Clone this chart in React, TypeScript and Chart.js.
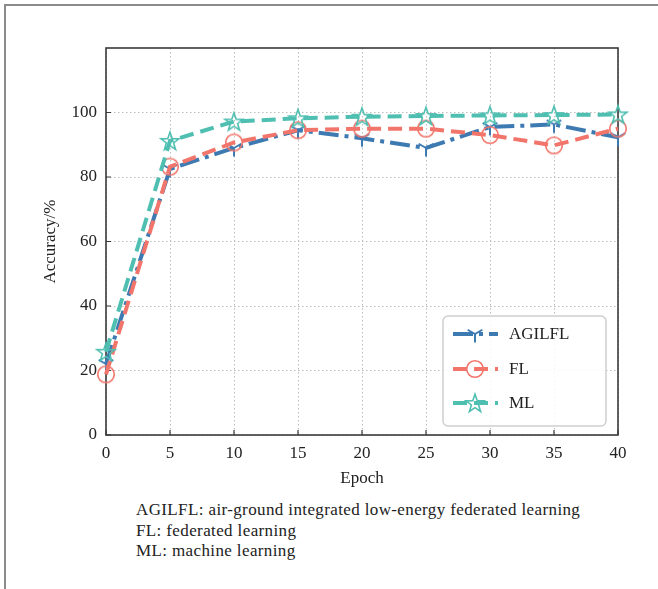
import React, { useEffect, useRef } from 'react';
import { Chart, registerables } from 'chart.js';

Chart.register(...registerables);

const epochs = [0, 5, 10, 15, 20, 25, 30, 35, 40];
const agilflValues = [22, 82.5, 89, 94.5, 92, 89, 95.5, 96.3, 92.3];
const flValues = [18.8, 83.2, 90.7, 94.5, 95, 95, 93, 89.8, 95];
const mlValues = [25.8, 91.2, 97.2, 98.2, 98.7, 98.9, 99.1, 99.2, 99.4];
const seriesNames = ['AGILFL', 'FL', 'ML'];
const seriesColors = ['#3d7ab2', '#f2756b', '#4fbfb1'];
const yTickValues = [0, 20, 40, 60, 80, 100];
const xTickValues = [0, 5, 10, 15, 20, 25, 30, 35, 40];
const xTitle = 'Epoch';
const yTitle = 'Accuracy/%';
const captionLines = [
  'AGILFL: air-ground integrated low-energy federated learning',
  'FL: federated learning',
  'ML: machine learning',
];

const FONT = '"Liberation Serif", "Times New Roman", serif';

function makeTriDown(color: string): HTMLCanvasElement {
  const c = document.createElement('canvas');
  c.width = 22;
  c.height = 22;
  const ctx = c.getContext('2d')!;
  const cx = 11, cy = 11, r = 8.5;
  ctx.strokeStyle = color;
  ctx.lineWidth = 2;
  ctx.beginPath();
  ctx.moveTo(cx, cy);
  ctx.lineTo(cx, cy + r);
  ctx.moveTo(cx, cy);
  ctx.lineTo(cx - r * 0.866, cy - r * 0.5);
  ctx.moveTo(cx, cy);
  ctx.lineTo(cx + r * 0.866, cy - r * 0.5);
  ctx.stroke();
  return c;
}

function makeCircle(color: string): HTMLCanvasElement {
  const c = document.createElement('canvas');
  c.width = 22;
  c.height = 22;
  const ctx = c.getContext('2d')!;
  ctx.strokeStyle = color;
  ctx.lineWidth = 1.6;
  ctx.beginPath();
  ctx.arc(11, 11, 8.3, 0, Math.PI * 2);
  ctx.stroke();
  return c;
}

function makeStar(color: string): HTMLCanvasElement {
  const c = document.createElement('canvas');
  c.width = 24;
  c.height = 24;
  const ctx = c.getContext('2d')!;
  const cx = 12, cy = 12.8, R = 9.5, r = R * 0.4;
  ctx.strokeStyle = color;
  ctx.lineWidth = 1.6;
  ctx.lineJoin = 'miter';
  ctx.beginPath();
  for (let i = 0; i < 10; i++) {
    const rad = i % 2 === 0 ? R : r;
    const a = -Math.PI / 2 + (i * Math.PI) / 5;
    const x = cx + rad * Math.cos(a);
    const y = cy + rad * Math.sin(a);
    if (i === 0) ctx.moveTo(x, y);
    else ctx.lineTo(x, y);
  }
  ctx.closePath();
  ctx.stroke();
  return c;
}

export default function App() {
  const canvasRef = useRef<HTMLCanvasElement | null>(null);

  useEffect(() => {
    document.body.style.margin = '0';
    const canvas = canvasRef.current;
    if (!canvas) return;

    const markers = [
      makeTriDown(seriesColors[0]),
      makeCircle(seriesColors[1]),
      makeStar(seriesColors[2]),
    ];
    const dashes = [
      [20, 6, 4, 6],
      [14, 7],
      [14, 7],
    ];
    const values = [agilflValues, flValues, mlValues];

    const datasets = values.map((vals, i) => ({
      label: seriesNames[i],
      data: epochs.map((e, j) => ({ x: e, y: vals[j] })),
      borderColor: seriesColors[i],
      backgroundColor: seriesColors[i],
      borderWidth: 4,
      borderDash: dashes[i],
      borderCapStyle: 'butt' as const,
      pointStyle: markers[i],
      pointRadius: 9,
      pointHoverRadius: 9,
      tension: 0,
      fill: false,
      clip: false as any,
      order: 3 - i,
    }));

    const framePlugin = {
      id: 'framePlugin',
      beforeDatasetsDraw(chart: any) {
        const { ctx, chartArea } = chart;
        const xs = chart.scales.x;
        const ys = chart.scales.y;
        ctx.save();
        ctx.strokeStyle = '#3a3a3a';
        ctx.lineWidth = 1.2;
        ctx.setLineDash([]);
        ctx.beginPath();
        for (const v of xTickValues) {
          const px = xs.getPixelForValue(v);
          ctx.moveTo(px, chartArea.bottom);
          ctx.lineTo(px, chartArea.bottom - 5);
        }
        for (const v of yTickValues) {
          const py = ys.getPixelForValue(v);
          ctx.moveTo(chartArea.left, py);
          ctx.lineTo(chartArea.left + 5, py);
        }
        ctx.stroke();
        ctx.lineWidth = 1.6;
        ctx.strokeRect(
          chartArea.left,
          chartArea.top,
          chartArea.right - chartArea.left,
          chartArea.bottom - chartArea.top
        );
        ctx.restore();
      },
      afterDraw(chart: any) {
        const { ctx } = chart;
        const bx = 443, by = 316, bw = 163, bh = 110, rad = 5;
        ctx.save();
        ctx.beginPath();
        ctx.moveTo(bx + rad, by);
        ctx.lineTo(bx + bw - rad, by);
        ctx.arcTo(bx + bw, by, bx + bw, by + rad, rad);
        ctx.lineTo(bx + bw, by + bh - rad);
        ctx.arcTo(bx + bw, by + bh, bx + bw - rad, by + bh, rad);
        ctx.lineTo(bx + rad, by + bh);
        ctx.arcTo(bx, by + bh, bx, by + bh - rad, rad);
        ctx.lineTo(bx, by + rad);
        ctx.arcTo(bx, by, bx + rad, by, rad);
        ctx.closePath();
        ctx.fillStyle = 'rgba(255,255,255,0.85)';
        ctx.fill();
        ctx.strokeStyle = '#cfcfcf';
        ctx.lineWidth = 1.5;
        ctx.stroke();
        const rows = [334, 369, 403];
        for (let i = 0; i < 3; i++) {
          const y = rows[i];
          ctx.strokeStyle = seriesColors[i];
          ctx.lineWidth = 4;
          ctx.lineCap = 'butt';
          ctx.setLineDash(dashes[i]);
          ctx.beginPath();
          ctx.moveTo(453, y);
          ctx.lineTo(498, y);
          ctx.stroke();
          ctx.setLineDash([]);
          const m = markers[i];
          ctx.drawImage(m, 475 - m.width / 2, y - m.height / 2);
          ctx.fillStyle = '#222';
          ctx.font = `17px ${FONT}`;
          ctx.textBaseline = 'middle';
          ctx.textAlign = 'left';
          ctx.fillText(seriesNames[i], 509, y + 1);
        }
        ctx.restore();
      },
    };

    const chart = new Chart(canvas, {
      type: 'line',
      data: { datasets: datasets as any },
      options: {
        animation: false,
        responsive: false,
        devicePixelRatio: 1,
        layout: { padding: { left: 0, top: 48, right: 40, bottom: 0 } },
        plugins: {
          legend: { display: false },
          tooltip: { enabled: false },
        },
        scales: {
          x: {
            type: 'linear',
            min: 0,
            max: 40,
            afterBuildTicks(scale: any) {
              scale.ticks = xTickValues.map((v) => ({ value: v }));
            },
            afterFit(scale: any) {
              scale.height = 65;
            },
            ticks: {
              color: '#222',
              font: { family: FONT, size: 17 },
              padding: 8,
              maxRotation: 0,
              autoSkip: false,
            },
            grid: {
              color: '#bdbdbd',
              lineWidth: 1,
              drawTicks: false,
            },
            border: { display: false, dash: [1.5, 2.5] },
            title: {
              display: true,
              text: xTitle,
              color: '#222',
              font: { family: FONT, size: 17 },
              padding: { top: 0, bottom: 11 },
            },
          },
          y: {
            type: 'linear',
            min: 0,
            max: 120,
            afterBuildTicks(scale: any) {
              scale.ticks = yTickValues.map((v) => ({ value: v }));
            },
            afterFit(scale: any) {
              scale.width = 106;
            },
            ticks: {
              color: '#222',
              font: { family: FONT, size: 17 },
              padding: 9,
              autoSkip: false,
            },
            grid: {
              color: '#bdbdbd',
              lineWidth: 1,
              drawTicks: false,
            },
            border: { display: false, dash: [1.5, 2.5] },
            title: {
              display: true,
              text: yTitle,
              color: '#222',
              font: { family: FONT, size: 17 },
              padding: { top: 40, bottom: 0 },
            },
          },
        },
      },
      plugins: [framePlugin],
    });

    return () => {
      chart.destroy();
    };
  }, []);

  return (
    <div style={{ position: 'relative', width: 658, height: 589, background: '#fff', overflow: 'hidden' }}>
      <div
        style={{
          position: 'absolute',
          left: 4,
          top: 4,
          width: 660,
          height: 600,
          borderTop: '2px solid #8c8c8c',
          borderLeft: '2px solid #8c8c8c',
          boxSizing: 'border-box',
        }}
      />
      <canvas
        ref={canvasRef}
        width={658}
        height={500}
        style={{ position: 'absolute', left: 0, top: 0, width: 658, height: 500 }}
      />
      <div
        style={{
          position: 'absolute',
          left: 136,
          top: 500,
          fontFamily: FONT,
          fontSize: 17,
          letterSpacing: '0.38px',
          lineHeight: '20.5px',
          color: '#222',
          whiteSpace: 'nowrap',
        }}
      >
        {captionLines.map((t, i) => (
          <div key={i}>{t}</div>
        ))}
      </div>
    </div>
  );
}
